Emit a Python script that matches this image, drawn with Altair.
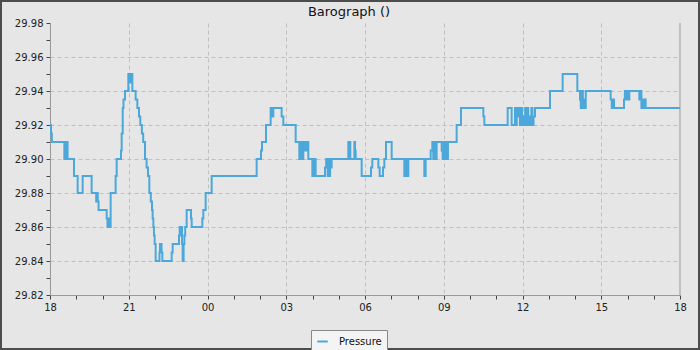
import altair as alt
import pandas as pd

# hours after 18:00 and barometric pressure (inHg), step data
hours = [
    0.00, 0.04, 0.07, 0.546, 0.58, 0.61, 0.64, 0.67, 0.914, 1.054, 1.244, 1.587,
    1.76, 1.79, 1.82, 1.85, 2.16, 2.19, 2.22, 2.25, 2.311, 2.50, 2.54,
    2.705, 2.73, 2.77, 2.80, 2.857, 2.984, 3.02, 3.05, 3.09, 3.11, 3.137,
    3.263, 3.327, 3.39, 3.44, 3.50, 3.55, 3.619, 3.68, 3.733, 3.784, 3.84, 3.886,
    3.91, 3.937, 3.96, 3.987, 4.025,
    4.17, 4.19, 4.25, 4.28, 4.635, 4.673, 4.914, 4.94, 4.97, 5.00, 5.03, 5.054,
    5.09, 5.12, 5.15, 5.206, 5.371, 5.397, 5.803, 5.841, 5.93, 6.159,
    7.873, 8.038, 8.076, 8.229,
    8.406, 8.43, 8.46, 8.48, 8.508, 8.825, 8.889, 9.359,
    9.498, 9.53, 9.56, 9.59, 9.62, 9.65, 9.68, 9.72, 9.75, 9.78, 9.841,
    9.994, 10.03, 10.06, 10.09, 10.12, 10.476, 10.52, 10.578, 10.61, 10.64,
    10.67, 10.70, 10.73, 11.365, 11.441, 11.594, 11.62, 11.644, 11.873,
    12.229, 12.279,
    12.508, 12.559, 12.686, 12.737, 12.80, 13.016, 13.498, 13.53, 13.56, 13.59,
    13.62, 13.651, 14.26, 14.311, 14.502, 14.565, 14.60, 14.641, 14.68, 14.73,
    14.921, 14.959, 15.00, 15.04, 15.08, 15.12, 15.16, 15.492, 15.657, 16.508,
    16.546,
    17.435, 17.587, 17.714, 17.75, 17.78, 17.82, 17.86, 17.90, 17.94, 17.98,
    18.02, 18.06, 18.10, 18.14, 18.18, 18.22, 18.26, 18.30, 18.34, 18.38,
    18.42, 18.476, 19.048, 19.53, 20.089, 20.19, 20.22, 20.26, 20.30, 20.34,
    20.38, 20.41,
    21.359, 21.40, 21.44, 21.486, 21.867, 21.90, 21.94, 21.98, 22.02, 22.07,
    22.451, 22.49, 22.53, 22.57, 22.61, 22.65, 22.69, 24.0,
]
pressure = [
    29.92, 29.915, 29.91, 29.90, 29.91, 29.90, 29.91, 29.90, 29.89, 29.88, 29.89, 29.88,
    29.875, 29.88, 29.875, 29.87, 29.865, 29.86, 29.865, 29.86, 29.88, 29.89, 29.90,
    29.905, 29.915, 29.93, 29.935, 29.94, 29.95, 29.945, 29.95, 29.945, 29.95, 29.94,
    29.935, 29.93, 29.925, 29.92, 29.915, 29.91, 29.90, 29.895, 29.89, 29.88, 29.875, 29.87,
    29.865, 29.86, 29.855, 29.85, 29.84,
    29.845, 29.85, 29.845, 29.84, 29.845, 29.85, 29.855, 29.86, 29.855, 29.86, 29.85, 29.84,
    29.85, 29.855, 29.86, 29.87, 29.865, 29.86, 29.865, 29.87, 29.88, 29.89,
    29.90, 29.905, 29.91, 29.92,
    29.93, 29.925, 29.93, 29.925, 29.93, 29.925, 29.92, 29.91,
    29.90, 29.91, 29.90, 29.91, 29.90, 29.91, 29.905, 29.91, 29.905, 29.91, 29.90,
    29.89, 29.90, 29.89, 29.90, 29.89, 29.895, 29.90, 29.89, 29.90, 29.89,
    29.90, 29.895, 29.90, 29.91, 29.90, 29.91, 29.905, 29.90, 29.89,
    29.895, 29.90,
    29.895, 29.89, 29.895, 29.90, 29.91, 29.90, 29.89, 29.90, 29.89, 29.90,
    29.89, 29.90, 29.89, 29.90, 29.905, 29.91, 29.90, 29.91, 29.90, 29.91,
    29.905, 29.90, 29.91, 29.90, 29.91, 29.90, 29.91, 29.92, 29.93, 29.925,
    29.92,
    29.93, 29.92, 29.93, 29.92, 29.93, 29.925, 29.93, 29.92, 29.93, 29.92,
    29.925, 29.92, 29.93, 29.92, 29.93, 29.92, 29.925, 29.92, 29.93, 29.92,
    29.925, 29.93, 29.94, 29.95, 29.94, 29.935, 29.93, 29.94, 29.93, 29.935,
    29.93, 29.94,
    29.935, 29.93, 29.935, 29.93, 29.935, 29.94, 29.935, 29.94, 29.935, 29.94,
    29.935, 29.94, 29.93, 29.935, 29.93, 29.935, 29.93, 29.93,
]
series = ["Pressure"] * len(hours)

x_ticks = list(range(25))
y_ticks = [round(29.82 + 0.01 * i, 2) for i in range(17)]

df = pd.DataFrame({"hour": hours, "pressure": pressure, "series": series})

FONT = "DejaVu Sans"
BLUE = "#4ca8da"

x_label = ("datum.value % 3 == 0 ? ((((datum.value + 18) % 24) < 10 ? '0' : '') + "
           "((datum.value + 18) % 24)) : ''")
y_label = "round(datum.value * 100) % 2 == 0 ? format(datum.value, '.2f') : ''"

line = alt.Chart(df).mark_line(interpolate="step-after", strokeWidth=2).encode(
    x=alt.X("hour:Q",
            scale=alt.Scale(domain=[0, 24], nice=False, zero=False),
            axis=alt.Axis(values=x_ticks, tickCount=100, labelExpr=x_label, title=None,
                          grid=True,
                          gridOpacity={"condition": {"test": "datum.value % 3 == 0 && datum.value > 0 && datum.value < 24", "value": 1}, "value": 0},
                          labelFlush=False, labelOverlap=False, labelBound=False)),
    y=alt.Y("pressure:Q",
            scale=alt.Scale(domain=[29.82, 29.98], nice=False, zero=False),
            axis=alt.Axis(values=y_ticks, tickCount=100, labelExpr=y_label, title=None,
                          grid=True,
                          gridOpacity={"condition": {"test": "round(datum.value * 100) % 2 == 0 && datum.value > 29.825 && datum.value < 29.975", "value": 1}, "value": 0},
                          labelOverlap=False)),
    color=alt.Color("series:N",
                    scale=alt.Scale(domain=["Pressure"], range=[BLUE]),
                    legend=alt.Legend(title=None, orient="none", legendX=261, legendY=307,
                                      symbolType="stroke", symbolStrokeWidth=2, symbolSize=110,
                                      labelFont=FONT, labelFontSize=10, labelColor="#111",
                                      labelOffset=10, padding=5, labelLimit=200,
                                      fillColor="#f4f4f4", strokeColor="#888888")),
)

edge = alt.Chart(pd.DataFrame({"h": [24]})).mark_rule(color="#999999", strokeWidth=1).encode(
    x="h:Q", y=alt.value(0), y2=alt.value(272)
)

border = alt.Chart(pd.DataFrame({"h": [0]})).mark_rect(
    fillOpacity=0, stroke="#4d4d4d", strokeWidth=2
).encode(x=alt.value(-49), x2=alt.value(649), y=alt.value(-22), y2=alt.value(326))

chart = alt.layer(line, edge, border).properties(
    width=630, height=272,
    autosize=alt.AutoSizeParams(type="none"),
    padding={"left": 50, "top": 23, "right": 20, "bottom": 55},
    background="#e6e6e6",
    title=alt.TitleParams("Barograph ()", font=FONT, fontSize=13, fontWeight="normal",
                          color="#111", anchor="middle", offset=0, dy=19, dx=-16),
).configure_view(stroke=None, fill="#e6e6e6").configure_axis(
    labelFont=FONT, labelFontSize=10, labelColor="#222",
    tickSize=4, tickColor="#444", domainColor="#999999",
    gridColor="#c0c0c0", gridDash=[4, 3], labelPadding=3,
)

chart.save("out.html", embed_options={"renderer": "svg", "actions": False})
